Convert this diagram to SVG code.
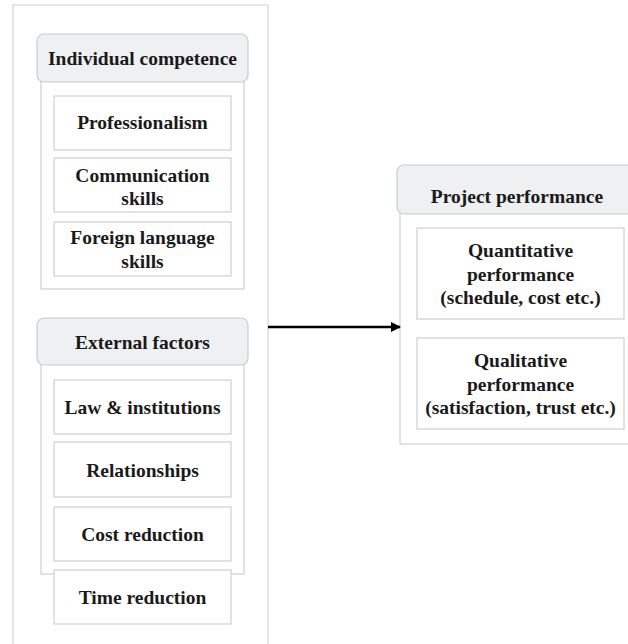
<svg xmlns="http://www.w3.org/2000/svg" width="628" height="644" viewBox="0 0 628 644">
<defs>
<style>
.outer{fill:#ffffff;stroke:#d4d4d4;stroke-width:1.2}
.hdr{fill:#eef0f1;stroke:#c8cccc;stroke-width:1.2}
.cont{fill:#ffffff;stroke:#cfcfcf;stroke-width:1.2}
.box{fill:#ffffff;stroke:#cfcfcf;stroke-width:1.2}
text{font-family:"Liberation Serif","Times New Roman",serif;font-weight:bold;font-size:19.5px;fill:#1a1a1a;text-anchor:middle}
.conn{stroke:#000;stroke-width:2.5;fill:none}
</style>
<marker id="arr" viewBox="0 0 10 10" refX="9" refY="5" markerWidth="4" markerHeight="4" orient="auto" markerUnits="strokeWidth">
<path d="M0,0 L10,5 L0,10 z" fill="#000"/>
</marker>
</defs>
<rect width="628" height="644" fill="#ffffff"/>
<rect class="outer" x="13" y="5" width="255" height="650"/>
<g id="individual-competence">
<rect class="cont" x="41" y="78" width="203" height="211"/>
<rect class="hdr" x="37" y="34" width="211" height="48" rx="7"/>
<text x="142.5" y="65">Individual competence</text>
</g>
<g id="professionalism">
<rect class="box" x="54" y="96" width="177" height="54"/>
<text x="142.5" y="129">Professionalism</text>
</g>
<g id="communication-skills">
<rect class="box" x="54" y="158" width="177" height="54"/>
<text x="142.5" y="182">Communication</text>
<text x="142.5" y="205">skills</text>
</g>
<g id="foreign-language-skills">
<rect class="box" x="54" y="222" width="177" height="54"/>
<text x="142.5" y="244">Foreign language</text>
<text x="142.5" y="268">skills</text>
</g>
<g id="external-factors">
<rect class="cont" x="41" y="361" width="203" height="213"/>
<rect class="hdr" x="37" y="318" width="211" height="47" rx="7"/>
<text x="142.5" y="349">External factors</text>
</g>
<g id="law-institutions">
<rect class="box" x="54" y="380" width="177" height="54"/>
<text x="142.5" y="414">Law &amp; institutions</text>
</g>
<g id="relationships">
<rect class="box" x="54" y="442" width="177" height="55"/>
<text x="142.5" y="477">Relationships</text>
</g>
<g id="cost-reduction">
<rect class="box" x="54" y="507" width="177" height="54"/>
<text x="142.5" y="541">Cost reduction</text>
</g>
<g id="time-reduction">
<rect class="box" x="54" y="570" width="177" height="54"/>
<text x="142.5" y="604">Time reduction</text>
</g>
<g id="project-performance">
<rect class="cont" x="400" y="210" width="240" height="234"/>
<rect class="hdr" x="397" y="165" width="245" height="49" rx="7"/>
<text x="517" y="203">Project performance</text>
</g>
<g id="quantitative-performance">
<rect class="box" x="417" y="228" width="207" height="91"/>
<text x="520.5" y="257">Quantitative</text>
<text x="520.5" y="281">performance</text>
<text x="520.5" y="304">(schedule, cost etc.)</text>
</g>
<g id="qualitative-performance">
<rect class="box" x="417" y="338" width="207" height="91"/>
<text x="520.5" y="367">Qualitative</text>
<text x="520.5" y="391">performance</text>
<text x="520.5" y="414">(satisfaction, trust etc.)</text>
</g>
<g id="connectors">
<line class="conn" x1="268" y1="327" x2="400" y2="327" marker-end="url(#arr)"/>
</g>
</svg>
